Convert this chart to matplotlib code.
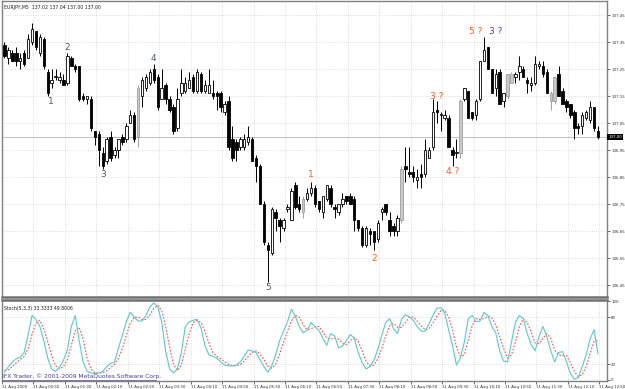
# -*- coding: utf-8 -*-

import matplotlib
matplotlib.use('Agg')
import matplotlib.pyplot as plt

# EURJPY M5 bars
opens = [137.34, 137.29, 137.31, 137.31, 137.28, 137.31, 137.29, 137.35, 137.39, 137.31,
         137.36, 137.24, 137.20, 137.22, 137.21, 137.21, 137.20, 137.29, 137.26, 137.26,
         137.15, 137.14, 137.14, 137.02, 137.01, 136.94, 136.91, 137.00, 136.93, 136.95,
         137.00, 136.99, 137.05, 137.08, 137.00, 137.15, 137.18, 137.20, 137.25, 137.22,
         137.14, 137.19, 137.14, 137.11, 137.03, 137.16, 137.17, 137.18, 137.22, 137.17,
         137.23, 137.17, 137.16, 137.16, 137.16, 137.16, 137.09, 137.13, 136.99, 136.98,
         136.96, 136.96, 136.98, 136.99, 136.92, 136.89, 136.75, 136.60, 136.57, 136.72,
         136.69, 136.66, 136.73, 136.69, 136.82, 136.75, 136.72, 136.77, 136.79, 136.81,
         136.76, 136.72, 136.77, 136.81, 136.74, 136.72, 136.75, 136.78, 136.78, 136.77,
         136.69, 136.66, 136.60, 136.65, 136.65, 136.62, 136.72, 136.75, 136.69, 136.67,
         136.65, 136.69, 136.89, 136.87, 136.87, 136.84, 136.86, 136.86, 136.92, 136.96,
         137.10, 137.08, 137.07, 137.07, 136.95, 136.94, 136.94, 137.14, 137.17, 137.09,
         137.08, 137.14, 137.28, 137.33, 137.25, 137.18, 137.24, 137.13, 137.15, 137.20,
         137.22, 137.24, 137.25, 137.21, 137.19, 137.20, 137.26, 137.26, 137.24, 137.13,
         137.13, 137.23, 137.17, 137.13, 137.12, 137.09, 137.04, 137.04, 137.07, 137.06,
         137.11, 137.02]
highs = [137.35, 137.33, 137.32, 137.33, 137.31, 137.32, 137.38, 137.42, 137.39, 137.38,
         137.37, 137.25, 137.25, 137.25, 137.24, 137.23, 137.31, 137.30, 137.27, 137.26,
         137.16, 137.15, 137.15, 137.02, 137.02, 136.96, 137.00, 137.02, 136.96, 136.99,
         137.01, 137.05, 137.10, 137.09, 137.19, 137.22, 137.23, 137.25, 137.27, 137.23,
         137.25, 137.20, 137.15, 137.12, 137.18, 137.25, 137.22, 137.24, 137.23, 137.25,
         137.24, 137.21, 137.25, 137.21, 137.17, 137.17, 137.13, 137.15, 137.04, 136.99,
         137.00, 137.01, 137.04, 137.00, 136.93, 136.90, 136.76, 136.61, 136.74, 136.73,
         136.70, 136.70, 136.75, 136.81, 136.83, 136.78, 136.78, 136.81, 136.83, 136.82,
         136.76, 136.78, 136.82, 136.82, 136.75, 136.75, 136.79, 136.78, 136.79, 136.78,
         136.69, 136.67, 136.67, 136.66, 136.65, 136.69, 136.74, 136.75, 136.72, 136.68,
         136.71, 136.89, 136.96, 136.96, 136.89, 136.88, 136.90, 136.99, 136.96, 137.14,
         137.13, 137.09, 137.10, 137.08, 136.96, 136.99, 137.14, 137.18, 137.17, 137.09,
         137.14, 137.28, 137.37, 137.33, 137.25, 137.25, 137.25, 137.16, 137.23, 137.24,
         137.24, 137.30, 137.26, 137.22, 137.22, 137.30, 137.28, 137.28, 137.25, 137.17,
         137.22, 137.26, 137.18, 137.14, 137.12, 137.10, 137.05, 137.09, 137.10, 137.13,
         137.11, 137.04]
lows = [137.29, 137.27, 137.28, 137.26, 137.25, 137.26, 137.29, 137.34, 137.32, 137.30,
        137.25, 137.15, 137.18, 137.21, 137.20, 137.19, 137.19, 137.26, 137.24, 137.13,
        137.13, 137.12, 137.02, 136.97, 136.89, 136.88, 136.90, 136.91, 136.92, 136.92,
        136.97, 136.98, 137.05, 136.98, 136.96, 137.11, 137.17, 137.19, 137.20, 137.10,
        137.14, 137.12, 137.09, 137.01, 137.02, 137.15, 137.16, 137.18, 137.16, 137.16,
        137.16, 137.16, 137.16, 137.14, 137.10, 137.09, 137.08, 136.95, 136.91, 136.91,
        136.95, 136.95, 136.97, 136.91, 136.83, 136.75, 136.60, 136.46, 136.56, 136.65,
        136.61, 136.65, 136.72, 136.69, 136.73, 136.72, 136.70, 136.76, 136.78, 136.74,
        136.72, 136.70, 136.76, 136.74, 136.70, 136.71, 136.74, 136.75, 136.75, 136.65,
        136.65, 136.59, 136.59, 136.60, 136.58, 136.61, 136.69, 136.71, 136.63, 136.63,
        136.63, 136.68, 136.83, 136.85, 136.83, 136.81, 136.81, 136.85, 136.92, 136.95,
        137.05, 137.02, 137.06, 136.96, 136.89, 136.92, 136.92, 137.13, 137.07, 137.06,
        137.06, 137.13, 137.28, 137.25, 137.16, 137.15, 137.12, 137.11, 137.14, 137.20,
        137.20, 137.21, 137.22, 137.16, 137.17, 137.19, 137.25, 137.22, 137.16, 137.10,
        137.12, 137.15, 137.12, 137.09, 137.07, 136.99, 137.01, 137.01, 137.06, 137.05,
        137.02, 136.99]
closes = [137.30, 137.32, 137.28, 137.28, 137.29, 137.27, 137.36, 137.40, 137.33, 137.37,
          137.26, 137.16, 137.21, 137.22, 137.22, 137.19, 137.30, 137.26, 137.25, 137.14,
          137.14, 137.15, 137.03, 137.00, 136.95, 136.89, 136.99, 136.92, 136.95, 136.99,
          136.98, 137.04, 137.08, 136.99, 137.18, 137.21, 137.22, 137.24, 137.21, 137.11,
          137.18, 137.14, 137.10, 137.02, 137.14, 137.20, 137.20, 137.21, 137.17, 137.24,
          137.17, 137.19, 137.19, 137.15, 137.15, 137.11, 137.12, 136.96, 136.92, 136.95,
          136.99, 136.99, 137.00, 136.91, 136.89, 136.75, 136.61, 136.58, 136.73, 136.70,
          136.67, 136.69, 136.74, 136.80, 136.74, 136.73, 136.77, 136.79, 136.81, 136.75,
          136.73, 136.78, 136.82, 136.75, 136.73, 136.75, 136.77, 136.76, 136.75, 136.69,
          136.66, 136.60, 136.66, 136.64, 136.61, 136.68, 136.73, 136.72, 136.65, 136.65,
          136.70, 136.88, 136.88, 136.86, 136.85, 136.85, 136.85, 136.95, 136.95, 137.09,
          137.09, 137.08, 137.08, 136.96, 136.93, 136.94, 137.13, 137.18, 137.07, 137.07,
          137.13, 137.28, 137.32, 137.25, 137.16, 137.23, 137.12, 137.16, 137.23, 137.23,
          137.23, 137.26, 137.22, 137.20, 137.20, 137.27, 137.27, 137.23, 137.16, 137.16,
          137.22, 137.15, 137.12, 137.11, 137.08, 137.03, 137.03, 137.08, 137.09, 137.11,
          137.03, 137.00]
grey_bars = [34, 76, 101, 116, 128, 129, 139, 140]

# Stochastic(5,3,3): main and signal
stoch_main = [10, 17, 23, 27, 29, 35, 57, 82, 77, 68,
              50, 28, 14, 11, 16, 25, 38, 68, 82, 50,
              23, 11, 9, 8, 9, 11, 17, 21, 23, 41,
              57, 74, 86, 80, 75, 75, 82, 93, 98, 93,
              74, 37, 14, 9, 14, 35, 68, 74, 76, 77,
              66, 44, 32, 30, 28, 23, 19, 18, 18, 19,
              23, 30, 38, 37, 35, 26, 17, 10, 18, 32,
              50, 62, 74, 90, 81, 68, 60, 63, 73, 68,
              63, 53, 44, 59, 56, 41, 43, 50, 58, 53,
              35, 22, 14, 17, 25, 39, 57, 73, 78, 65,
              59, 77, 83, 80, 76, 68, 62, 62, 71, 82,
              91, 92, 85, 64, 44, 19, 28, 48, 78, 82,
              74, 75, 86, 82, 68, 60, 37, 24, 23, 48,
              73, 82, 78, 59, 45, 37, 55, 68, 55, 37,
              23, 35, 36, 23, 8, 1, 3, 17, 32, 52,
              64, 33.3333]
stoch_signal = [12, 13, 17, 22, 26, 30, 40, 58, 72, 76,
                65, 49, 31, 18, 14, 17, 26, 44, 63, 67,
                52, 28, 14, 9, 9, 9, 12, 16, 20, 28,
                40, 57, 72, 80, 80, 77, 77, 83, 91, 95,
                88, 68, 42, 20, 12, 19, 39, 59, 73, 76,
                73, 62, 47, 35, 30, 27, 23, 20, 18, 18,
                20, 24, 30, 35, 37, 33, 26, 18, 15, 20,
                33, 48, 62, 75, 82, 80, 70, 64, 65, 68,
                68, 61, 53, 52, 53, 52, 47, 45, 50, 54,
                49, 37, 24, 18, 19, 27, 40, 56, 69, 72,
                67, 67, 73, 80, 80, 75, 69, 64, 65, 72,
                81, 88, 89, 80, 64, 42, 30, 32, 51, 69,
                78, 77, 78, 81, 79, 70, 55, 40, 28, 32,
                48, 68, 78, 73, 61, 47, 46, 53, 59, 53,
                38, 32, 31, 31, 22, 11, 4, 7, 17, 34,
                49, 49.8006]

price_ticks = [136.45, 136.55, 136.65, 136.75, 136.85, 136.95,
               137.05, 137.15, 137.25, 137.35, 137.45]
stoch_ticks = [0, 20, 80, 100]
time_labels = ['11 Aug 2009', '11 Aug 00:50', '11 Aug 01:30', '11 Aug 02:10',
               '11 Aug 02:50', '11 Aug 03:30', '11 Aug 04:10', '11 Aug 04:50',
               '11 Aug 05:30', '11 Aug 06:10', '11 Aug 06:50', '11 Aug 07:30',
               '11 Aug 08:10', '11 Aug 08:50', '11 Aug 09:30', '11 Aug 10:10',
               '11 Aug 10:50', '11 Aug 11:30', '11 Aug 12:10', '11 Aug 12:50']

# wave counts: text, bar, price, group
waves = [('1', 11.8, 137.13, 'old'), ('2', 16.0, 137.33, 'old'),
         ('3', 25.0, 136.86, 'old'), ('4', 38.0, 137.29, 'old'),
         ('5', 67.0, 136.44, 'old'),
         ('1', 78.0, 136.86, 'new'), ('2', 94.0, 136.55, 'new'),
         ('3 ?', 110.0, 137.15, 'new'), ('4 ?', 113.9, 136.87, 'new'),
         ('5 ?', 120.0, 137.39, 'new'), ('3 ?', 125.0, 137.39, 'alt')]
wave_colors = {'old': '#4a5a6a', 'new': '#ff5a1e', 'alt': '#5b3fa0'}

last_price = 137.00
header = 'EURJPY,M5  137.02 137.04 137.00 137.00'
stoch_header = 'Stoch(5,3,3) 33.3333 49.8006'
watermark = 'IFX Trader, \u00a9 2001-2009 MetaQuotes Software Corp.'

W, H = 625, 389
fig = plt.figure(figsize=(W / 100, H / 100), dpi=100)
fig.patch.set_facecolor('white')

x0 = -0.636
x1 = x0 + 605 / 3.93
ax = fig.add_axes([2 / W, 1 - 297 / H, 605 / W, 296 / H])
ax2 = fig.add_axes([2 / W, 1 - 381 / H, 605 / W, 81 / H])

grid_x = [x0 + 8 * k for k in range(len(time_labels))]
dot = (0, (1, 2))

for a in (ax, ax2):
    a.set_xlim(x0, x1)
    a.set_facecolor('white')
    for s in a.spines.values():
        s.set_color('#808080')
        s.set_linewidth(1.0)
    a.yaxis.tick_right()
    a.tick_params(axis='y', direction='out', length=2, width=0.5, colors='#303030',
                  labelsize=2.9, pad=1.0)
    for gx in grid_x:
        a.axvline(gx, color='#c4c4c4', lw=0.5, linestyle=dot, zorder=0)

ax.spines['bottom'].set_linewidth(1.8)
ax.spines['bottom'].set_color('#707070')
ax2.spines['top'].set_linewidth(1.8)
ax2.spines['top'].set_color('#707070')

# main price panel
ax.set_ylim(136.4056, 137.5019)
ax.set_yticks(price_ticks)
ax.set_yticklabels(['%.2f' % p for p in price_ticks])
ax.set_xticks([])
for p in price_ticks:
    ax.axhline(p, color='#c4c4c4', lw=0.5, linestyle=dot, zorder=0)
ax.axhline(last_price, color='#c0c0c0', lw=0.7, zorder=1)

for i in range(len(opens)):
    o, h, l, c = opens[i], highs[i], lows[i], closes[i]
    bottom = min(o, c)
    height = max(abs(c - o), 0.0025)
    if i in grey_bars:
        face, edge = '#c8c8c8', '#a0a0a0'
    elif c >= o:
        face, edge = 'white', 'black'
    else:
        face, edge = 'black', 'black'
    ax.vlines(i, l, h, color=edge, lw=0.7, zorder=2)
    ax.bar(i, height, bottom=bottom, width=0.62, color=face, edgecolor=edge,
           linewidth=0.6, zorder=3)

for txt, bx, py, grp in waves:
    ax.text(bx, py, txt, color=wave_colors[grp], fontsize=6.5, ha='center',
            va='center', zorder=5)

ax.text(0.004, 0.985, header, transform=ax.transAxes, fontsize=3.3, va='top',
        ha='left', color='#202020')

# current price tag
fig.text(608.5 / W, 1 - 137 / H, '%.2f' % last_price, fontsize=2.9, color='white',
         va='center', ha='left',
         bbox=dict(boxstyle='square,pad=0.3', fc='black', ec='black', lw=0))

# stochastic panel
ax2.set_ylim(-1.3, 101.7)
ax2.set_yticks(stoch_ticks)
ax2.set_yticklabels([str(v) for v in stoch_ticks])
for lv in (20, 80):
    ax2.axhline(lv, color='#c4c4c4', lw=0.5, linestyle=dot, zorder=0)
bars = list(range(len(stoch_main)))
ax2.plot(bars, stoch_main, color='#5cc8cc', lw=0.8, zorder=3)
ax2.plot(bars, stoch_signal, color='#ff5050', lw=0.8, linestyle=(0, (1.5, 1.5)), zorder=2)
ax2.text(0.004, 0.93, stoch_header, transform=ax2.transAxes, fontsize=3.3,
         va='top', ha='left', color='#202020')
ax2.text(0.0, 0.02, watermark, transform=ax2.transAxes, fontsize=4.3, va='bottom',
         ha='left', color='#4b3c8c', zorder=6)
ax2.plot([0.0, 0.255], [0.015, 0.015], transform=ax2.transAxes, color='#4b3c8c', lw=0.5)

ax2.set_xticks(grid_x)
ax2.set_xticklabels(time_labels, ha='left')
ax2.tick_params(axis='x', direction='out', length=2, width=0.5, colors='#303030',
                labelsize=2.75, pad=1.0)

fig.savefig('out.png', dpi=100)
